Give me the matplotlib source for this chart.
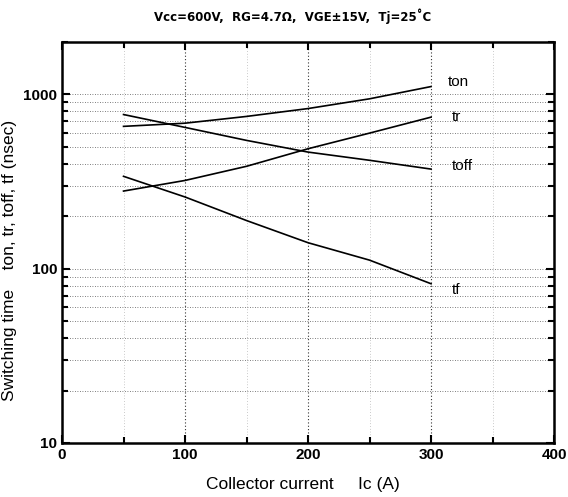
import matplotlib
matplotlib.use("Agg")
import matplotlib.pyplot as plt
from matplotlib.ticker import FixedLocator, LogLocator, NullFormatter

plt.rcParams["font.family"] = ["Liberation Sans", "DejaVu Sans"]

# Collector current (A)
ic = [50, 100, 150, 200, 250, 300]
# switching times (nsec)
ton = [656, 684, 748, 830, 944, 1110]
tr = [279, 321, 387, 488, 600, 741]
toff = [767, 647, 545, 467, 419, 373]
tf = [339, 258, 189, 141, 112, 82]

curve_names = ["ton", "tr", "toff", "tf"]
label_pos = [(314, 1172), (317, 738), (317, 386), (317, 75)]

fig = plt.figure(figsize=(5.68, 4.97), dpi=100)
ax = fig.add_axes([0.1092, 0.1087, 0.8662, 0.8068])

for vals in (ton, tr, toff, tf):
    ax.plot(ic, vals, color="black", lw=1.2)

for name, (x, y) in zip(curve_names, label_pos):
    ax.text(x, y, name, fontsize=11, ha="left", va="center")

ax.set_yscale("log")
ax.set_xlim(0, 400)
ax.set_ylim(10, 2000)

ax.xaxis.set_major_locator(FixedLocator([0, 100, 200, 300, 400]))
ax.xaxis.set_minor_locator(FixedLocator([50, 150, 250, 350]))
ax.yaxis.set_major_locator(FixedLocator([10, 100, 1000]))
ax.yaxis.set_minor_locator(LogLocator(base=10, subs=range(2, 10)))
ax.yaxis.set_minor_formatter(NullFormatter())
ax.set_yticklabels(["10", "100", "1000"])

ax.grid(True, which="both", axis="y", ls=(0, (1, 2)), lw=0.6, color="#555555")
ax.grid(True, which="major", axis="x", ls=(0, (1, 2)), lw=0.8, color="#333333")
ax.grid(True, which="minor", axis="x", ls=(0, (1, 3)), lw=0.5, color="#999999")

ax.tick_params(which="both", direction="in", top=True, right=True, width=1.5)
ax.tick_params(which="major", length=6, labelsize=11)
ax.tick_params(which="minor", length=4)
for lab in ax.get_xticklabels() + ax.get_yticklabels():
    lab.set_fontweight("bold")
for s in ax.spines.values():
    s.set_linewidth(1.8)

ax.set_xlabel("Collector current     Ic (A)", fontsize=12.5)
ax.xaxis.set_label_coords(0.49, -0.085)
ax.set_ylabel("Switching time    ton, tr, toff, tf (nsec)", fontsize=12.5)
ax.yaxis.set_label_coords(-0.092, 0.454)

fig.text(0.515, 0.968, "Vcc=600V,  RG=4.7\u03a9,  VGE\u00b115V,  Tj=25\u02daC",
         ha="center", va="center", fontsize=8.5, fontweight="bold",
         family=["DejaVu Sans"])

fig.savefig("out.png", dpi=100)
